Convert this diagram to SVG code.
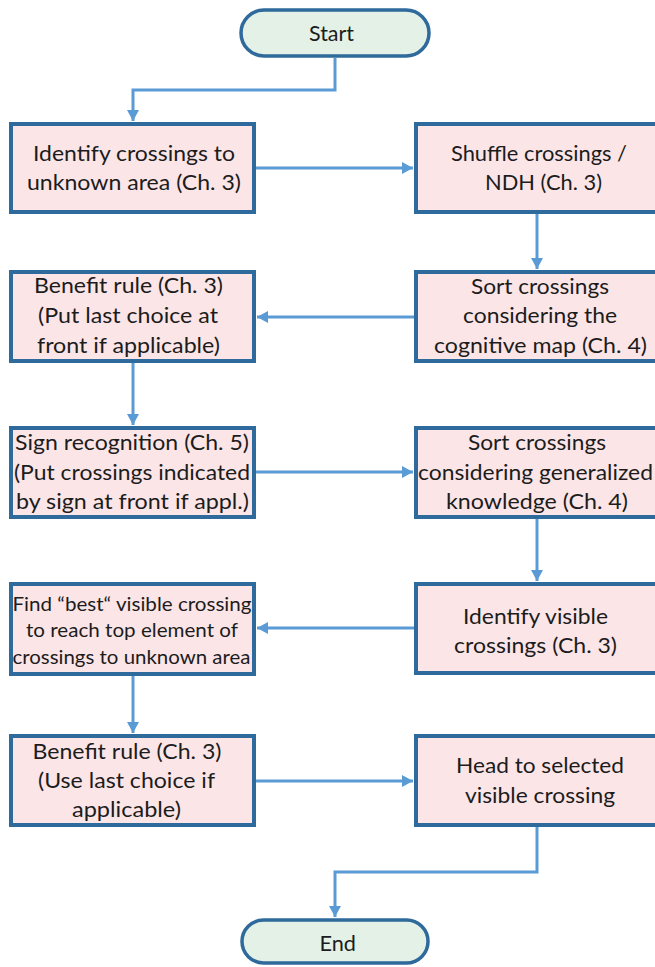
<svg xmlns="http://www.w3.org/2000/svg" width="655" height="967" viewBox="0 0 655 967">
<defs>
<style>
.box{fill:#fbe5e7;stroke:#2e6a9b;stroke-width:4}
.pill{fill:#e3f1e7;stroke:#2e6a9b;stroke-width:3.5}
.t{font-family:Lato,"Liberation Sans",sans-serif;font-size:21px;fill:#1c1c1c}
.s{font-size:19px}
.c{fill:none;stroke:#5b9bd5;stroke-width:3}
</style>
<marker id="ah" markerUnits="userSpaceOnUse" markerWidth="12" markerHeight="12" refX="11" refY="6" orient="auto">
<path d="M0,0 L11,6 L0,12 z" fill="#5b9bd5"/>
</marker>
</defs>
<rect width="655" height="967" fill="#ffffff"/>
<g id="connectors">
<path class="c" d="M335,58 V90 H133 V121" marker-end="url(#ah)"/>
<path class="c" d="M256,168 H413" marker-end="url(#ah)"/>
<path class="c" d="M537,214 V269" marker-end="url(#ah)"/>
<path class="c" d="M414,317 H257" marker-end="url(#ah)"/>
<path class="c" d="M133,363 V425" marker-end="url(#ah)"/>
<path class="c" d="M256,472 H413" marker-end="url(#ah)"/>
<path class="c" d="M537,519 V581" marker-end="url(#ah)"/>
<path class="c" d="M414,628 H257" marker-end="url(#ah)"/>
<path class="c" d="M133,676 V733" marker-end="url(#ah)"/>
<path class="c" d="M256,781 H413" marker-end="url(#ah)"/>
<path class="c" d="M537,827 V872 H335 V917" marker-end="url(#ah)"/>
</g>
<g id="start">
<rect class="pill" x="241" y="10" width="188" height="46" rx="23"/>
<text class="t" x="309" y="41" textLength="45" lengthAdjust="spacingAndGlyphs">Start</text>
</g>
<g id="n1">
<rect class="box" x="11" y="124" width="243" height="88"/>
<text class="t" x="33" y="161" textLength="202" lengthAdjust="spacingAndGlyphs">Identify crossings to</text>
<text class="t" x="27" y="190" textLength="214" lengthAdjust="spacingAndGlyphs">unknown area (Ch. 3)</text>
</g>
<g id="n2">
<rect class="box" x="416" y="124" width="243" height="88"/>
<text class="t" x="451" y="161" textLength="176" lengthAdjust="spacingAndGlyphs">Shuffle crossings /</text>
<text class="t" x="485" y="190" textLength="117" lengthAdjust="spacingAndGlyphs">NDH (Ch. 3)</text>
</g>
<g id="n3">
<rect class="box" x="416" y="272" width="243" height="89"/>
<text class="t" x="471" y="294" textLength="138" lengthAdjust="spacingAndGlyphs">Sort crossings</text>
<text class="t" x="463" y="323" textLength="154" lengthAdjust="spacingAndGlyphs">considering the</text>
<text class="t" x="434" y="353" textLength="213" lengthAdjust="spacingAndGlyphs">cognitive map (Ch. 4)</text>
</g>
<g id="n4">
<rect class="box" x="11" y="272" width="243" height="89"/>
<text class="t" x="34" y="293" textLength="189" lengthAdjust="spacingAndGlyphs">Benefit rule (Ch. 3)</text>
<text class="t" x="38" y="323" textLength="180" lengthAdjust="spacingAndGlyphs">(Put last choice at</text>
<text class="t" x="37" y="353" textLength="183" lengthAdjust="spacingAndGlyphs">front if applicable)</text>
</g>
<g id="n5">
<rect class="box" x="11" y="428" width="243" height="89"/>
<text class="t" x="15" y="450" textLength="234" lengthAdjust="spacingAndGlyphs">Sign recognition (Ch. 5)</text>
<text class="t" x="14" y="480" textLength="236" lengthAdjust="spacingAndGlyphs">(Put crossings indicated</text>
<text class="t" x="16" y="509" textLength="233" lengthAdjust="spacingAndGlyphs">by sign at front if appl.)</text>
</g>
<g id="n6">
<rect class="box" x="416" y="428" width="243" height="89"/>
<text class="t" x="468" y="450" textLength="138" lengthAdjust="spacingAndGlyphs">Sort crossings</text>
<text class="t" x="418" y="480" textLength="235" lengthAdjust="spacingAndGlyphs">considering generalized</text>
<text class="t" x="446" y="509" textLength="182" lengthAdjust="spacingAndGlyphs">knowledge (Ch. 4)</text>
</g>
<g id="n7">
<rect class="box" x="416" y="584" width="243" height="89"/>
<text class="t" x="463" y="624" textLength="145" lengthAdjust="spacingAndGlyphs">Identify visible</text>
<text class="t" x="454" y="653" textLength="163" lengthAdjust="spacingAndGlyphs">crossings (Ch. 3)</text>
</g>
<g id="n8">
<rect class="box" x="11" y="584" width="243" height="90"/>
<text class="t s" x="12.5" y="611" textLength="239" lengthAdjust="spacingAndGlyphs">Find “best“ visible crossing</text>
<text class="t s" x="26" y="637" textLength="212" lengthAdjust="spacingAndGlyphs">to reach top element of</text>
<text class="t s" x="12.5" y="664" textLength="238" lengthAdjust="spacingAndGlyphs">crossings to unknown area</text>
</g>
<g id="n9">
<rect class="box" x="11" y="736" width="243" height="89"/>
<text class="t" x="32.5" y="759" textLength="189" lengthAdjust="spacingAndGlyphs">Benefit rule (Ch. 3)</text>
<text class="t" x="38" y="788" textLength="177" lengthAdjust="spacingAndGlyphs">(Use last choice if</text>
<text class="t" x="72" y="817" textLength="109" lengthAdjust="spacingAndGlyphs">applicable)</text>
</g>
<g id="n10">
<rect class="box" x="416" y="736" width="243" height="89"/>
<text class="t" x="456" y="773" textLength="168" lengthAdjust="spacingAndGlyphs">Head to selected</text>
<text class="t" x="465" y="803" textLength="150" lengthAdjust="spacingAndGlyphs">visible crossing</text>
</g>
<g id="end">
<rect class="pill" x="242" y="920" width="186" height="43" rx="21.5"/>
<text class="t" x="319.5" y="951" textLength="36.5" lengthAdjust="spacingAndGlyphs">End</text>
</g>
</svg>
